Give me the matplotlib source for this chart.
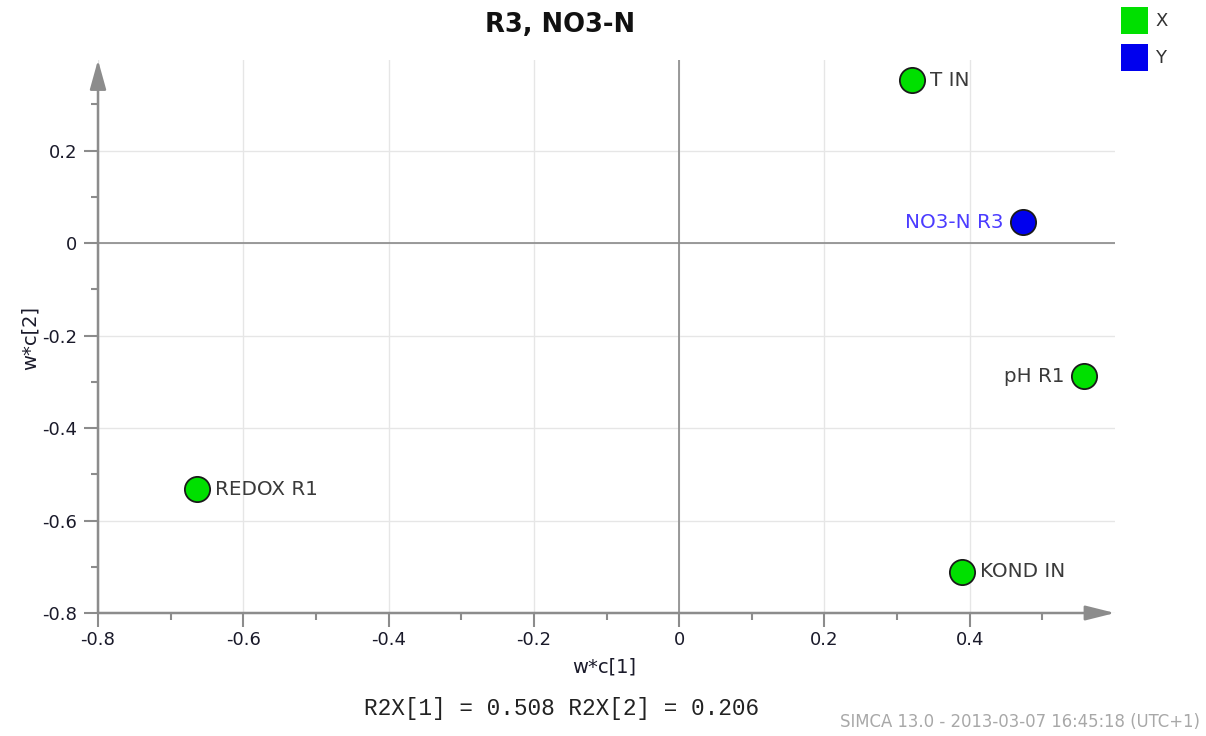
import matplotlib
matplotlib.use("Agg")
import matplotlib.pyplot as plt
from matplotlib.patches import Rectangle

# ---- data ----
names = ["T IN", "NO3-N R3", "pH R1", "REDOX R1", "KOND IN"]
wc1 = [0.320, 0.473, 0.557, -0.664, 0.389]
wc2 = [0.352, 0.045, -0.288, -0.532, -0.711]
kinds = ["X", "Y", "X", "X", "X"]
label_side = ["right", "left", "left", "right", "right"]
xticks = [-0.8, -0.6, -0.4, -0.2, 0, 0.2, 0.4]
yticks = [-0.8, -0.6, -0.4, -0.2, 0, 0.2]
xminor = [-0.7, -0.5, -0.3, -0.1, 0.1, 0.3, 0.5]
yminor = [-0.7, -0.5, -0.3, -0.1, 0.1, 0.3]
title = "R3, NO3-N"
r2x_text = "R2X[1] = 0.508 R2X[2] = 0.206"
footer = "SIMCA 13.0 - 2013-03-07 16:45:18 (UTC+1)"

colors = {"X": "#00e000", "Y": "#0000ee"}
text_colors = {"X": "#3a3a3a", "Y": "#4b3cff"}

plt.rcParams["font.family"] = ["DejaVu Sans"]

W, H = 1206, 736
fig = plt.figure(figsize=(W / 100, H / 100), dpi=100)
ax = fig.add_axes([98 / W, 1 - 613 / H, (1115 - 98) / W, (613 - 60) / H])

xmin, xmax = -0.8, 0.6
ymin, ymax = -0.8, 0.396
ax.set_xlim(xmin, xmax)
ax.set_ylim(ymin, ymax)

for s in ax.spines.values():
    s.set_visible(False)

axis_col = "#8c8c8c"
# grid
for xv in xticks:
    ax.axvline(xv, color="#e6e6e6", lw=1, zorder=0)
for yv in yticks:
    ax.axhline(yv, color="#e6e6e6", lw=1, zorder=0)
# zero lines
ax.axvline(0, color="#8a8a8a", lw=1.2, zorder=1)
ax.axhline(0, color="#8a8a8a", lw=1.2, zorder=1)

# axis lines with arrows
ax.annotate("", xy=(1.0, 0), xytext=(0, 0), xycoords="axes fraction",
            arrowprops=dict(arrowstyle="-|>,head_length=1.8,head_width=0.45",
                            color=axis_col, lw=1.8, shrinkA=0, shrinkB=0), zorder=3)
ax.annotate("", xy=(0, 1.0), xytext=(0, 0), xycoords="axes fraction",
            arrowprops=dict(arrowstyle="-|>,head_length=1.8,head_width=0.5",
                            color=axis_col, lw=1.8, shrinkA=0, shrinkB=0), zorder=3)

ax.set_xticks(xticks)
ax.set_yticks(yticks)
ax.set_xticklabels([f"{v:g}" for v in xticks])
ax.set_yticklabels([f"{v:g}" for v in yticks])
ax.set_xticks(xminor, minor=True)
ax.set_yticks(yminor, minor=True)
ax.tick_params(which="major", length=10, width=1.5, color=axis_col, labelsize=13,
               labelcolor="#1a1a2a", direction="out")
ax.tick_params(which="minor", length=5, width=1.5, color=axis_col, direction="out")
ax.tick_params(axis="x", pad=3)
ax.tick_params(axis="y", pad=5)

ax.set_xlabel("w*c[1]", fontsize=14, color="#1a1a2a", va="center")
ax.set_ylabel("w*c[2]", fontsize=14, color="#1a1a2a", va="center")
ax.xaxis.set_label_coords((604 - 98) / 1017, -(667 - 613) / 553)
ax.yaxis.set_label_coords((30 - 98) / 1017, (613 - 338) / 553)

# points
for n, x, y, k, side in zip(names, wc1, wc2, kinds, label_side):
    ax.scatter([x], [y], s=330, color=colors[k], edgecolor="#1a1a1a",
               linewidth=1.3, zorder=5, clip_on=False)
    if side == "right":
        ax.annotate(n, (x, y), xytext=(13, 0), textcoords="offset points",
                    ha="left", va="center", fontsize=14.3, color=text_colors[k], zorder=6)
    else:
        ax.annotate(n, (x, y), xytext=(-14, 0), textcoords="offset points",
                    ha="right", va="center", fontsize=14.3, color=text_colors[k], zorder=6)

fig.text(560 / W, 1 - 25 / H, title, ha="center", va="center", fontsize=18.5,
         fontweight="bold", color="#111111")
fig.text(562 / W, 1 - 708 / H, r2x_text, ha="center", va="center", fontsize=16.4,
         family="Liberation Mono", color="#222222")
fig.text(1200 / W, 1 - 722 / H, footer, ha="right", va="center", fontsize=11.9,
         color="#a8a8a8")

# legend
for i, k in enumerate(["X", "Y"]):
    y0 = 7 + i * 37
    fig.add_artist(Rectangle((1121 / W, 1 - (y0 + 27) / H), 27 / W, 27 / H,
                             transform=fig.transFigure, facecolor=colors[k],
                             edgecolor="none"))
    fig.text(1155 / W, 1 - (y0 + 14) / H, k, ha="left", va="center", fontsize=13,
             color="#333333")

fig.savefig("out.png", dpi=100)
